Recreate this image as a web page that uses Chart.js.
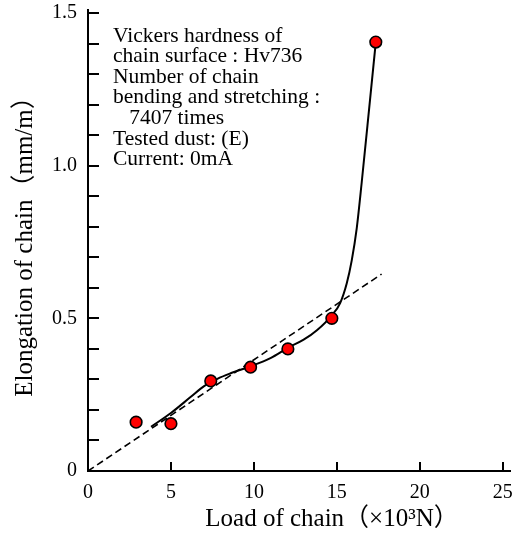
<!DOCTYPE html>
<html>
<head>
<meta charset="utf-8">
<script src="https://cdn.jsdelivr.net/npm/chart.js@4/dist/chart.umd.min.js"></script>
<style>
  html, body { margin: 0; padding: 0; background: #fff; }
  #wrap { width: 519px; height: 533px; }
</style>
</head>
<body>
<div id="wrap"><canvas id="chainChart"></canvas></div>
<script>
// measured points: load (x10^3 N) vs elongation (mm/m)
const loads = [2.9, 5.0, 7.4, 9.8, 12.05, 14.7, 17.35];
const elongations = [0.16, 0.155, 0.295, 0.34, 0.40, 0.50, 1.405];

// hand-drawn trend curve through the measurements
const curveLoads = [3.8, 5.0, 6.2, 7.0, 7.8, 8.6, 9.8, 11.0, 12.1, 13.0, 13.8, 14.7, 15.2, 15.6, 15.9, 16.2, 16.5, 17.0, 17.35];
const curveElong = [0.145, 0.19, 0.243, 0.278, 0.302, 0.32, 0.343, 0.37, 0.405, 0.43, 0.461, 0.51, 0.55, 0.615, 0.69, 0.795, 0.945, 1.215, 1.405];

// dashed linear reference
const refLoads = [0, 17.7];
const refElong = [0, 0.645];

const yTickValues = [0, 0.1, 0.2, 0.3, 0.4, 0.5, 0.6, 0.7, 0.8, 0.9, 1.0, 1.1, 1.2, 1.3, 1.4, 1.5];
const xTickValues = [0, 5, 10, 15, 20, 25];

const noteLines = [
    'Vickers hardness of',
    'chain surface : Hv736',
    'Number of chain',
    'bending and stretching :',
    '   7407 times',
    'Tested dust: (E)',
    'Current: 0mA'
];
const xTitle = 'Load of chain（×10³N）';
const yTitle = 'Elongation of chain（mm/m）';

const SERIF = "'Liberation Serif', 'Noto Sans CJK JP', serif";

const toPoints = (xs, ys) => xs.map((x, i) => ({ x: x, y: ys[i] }));

// ticks point into the plot area, so they are drawn here instead of by the grid
const inwardTicks = {
    id: 'inwardTicks',
    afterDraw(chart) {
        const ctx = chart.ctx;
        const xs = chart.scales.x;
        const ys = chart.scales.y;
        ctx.save();
        ctx.strokeStyle = '#000';
        ctx.lineWidth = 2;
        ctx.beginPath();
        ys.ticks.forEach(t => {
            const py = Math.round(ys.getPixelForValue(t.value));
            ctx.moveTo(xs.left, py);
            ctx.lineTo(xs.left + 11, py);
        });
        xs.ticks.forEach(t => {
            const px = Math.round(xs.getPixelForValue(t.value));
            ctx.moveTo(px, ys.bottom);
            ctx.lineTo(px, ys.bottom - 9);
        });
        ctx.stroke();
        ctx.restore();
    }
};

// note block and axis titles
const textLayer = {
    id: 'textLayer',
    afterDraw(chart) {
        const ctx = chart.ctx;
        const area = chart.chartArea;
        ctx.save();
        ctx.fillStyle = '#000';
        ctx.font = '21.5px ' + SERIF;
        ctx.textBaseline = 'alphabetic';
        ctx.textAlign = 'left';
        noteLines.forEach((line, i) => {
            ctx.fillText(line, area.left + 25, area.top + 31.5 + i * 20.6);
        });

        ctx.font = '25px ' + SERIF;
        ctx.textAlign = 'center';
        ctx.textBaseline = 'middle';
        ctx.fillText(xTitle, area.left + 244, area.bottom + 48);

        ctx.translate(25, (area.top + area.bottom) / 2);
        ctx.rotate(-Math.PI / 2);
        ctx.fillText(yTitle, 0, 0);
        ctx.restore();
    }
};

const ctx = document.getElementById('chainChart').getContext('2d');
const chainChart = new Chart(ctx, {
    type: 'scatter',
    data: {
        datasets: [
            {
                label: 'Measured',
                data: toPoints(loads, elongations),
                pointRadius: 5.8,
                pointBackgroundColor: '#ff0000',
                pointBorderColor: '#000',
                pointBorderWidth: 1.6,
                order: 0
            },
            {
                label: 'Trend',
                type: 'line',
                data: toPoints(curveLoads, curveElong),
                borderColor: '#000',
                borderWidth: 2,
                pointRadius: 0,
                cubicInterpolationMode: 'monotone',
                fill: false,
                order: 1
            },
            {
                label: 'Linear',
                type: 'line',
                data: toPoints(refLoads, refElong),
                borderColor: '#000',
                borderWidth: 1.6,
                borderDash: [7, 4],
                pointRadius: 0,
                fill: false,
                order: 2
            }
        ]
    },
    options: {
        responsive: true,
        maintainAspectRatio: false,
        animation: false,
        layout: { padding: { left: 0, top: 10, right: 9, bottom: 0 } },
        plugins: {
            legend: { display: false },
            tooltip: { enabled: false }
        },
        scales: {
            x: {
                type: 'linear',
                min: 0,
                max: 25.44,
                grid: { display: false, drawTicks: false },
                border: { display: true, color: '#000', width: 2 },
                afterBuildTicks: scale => {
                    scale.ticks = xTickValues.map(v => ({ value: v }));
                },
                afterFit: scale => {
                    scale.height = 62;
                    scale.paddingLeft = 0;
                    scale.paddingRight = 0;
                },
                ticks: {
                    autoSkip: false,
                    maxRotation: 0,
                    padding: 10,
                    color: '#000',
                    font: { family: SERIF, size: 20 },
                    callback: v => String(v)
                }
            },
            y: {
                type: 'linear',
                min: 0,
                max: 1.51,
                grid: { display: false, drawTicks: false },
                border: { display: true, color: '#000', width: 2 },
                afterBuildTicks: scale => {
                    scale.ticks = yTickValues.map(v => ({ value: v }));
                },
                afterFit: scale => {
                    scale.width = 88;
                    scale.paddingTop = 0;
                    scale.paddingBottom = 0;
                },
                ticks: {
                    autoSkip: false,
                    padding: 11,
                    color: '#000',
                    font: { family: SERIF, size: 20 },
                    callback: v => {
                        const r = Math.round(v * 10);
                        if (r % 5 !== 0) return '';
                        return r === 0 ? '0' : (r / 10).toFixed(1);
                    }
                }
            }
        }
    },
    plugins: [inwardTicks, textLayer]
});
</script>
</body>
</html>
